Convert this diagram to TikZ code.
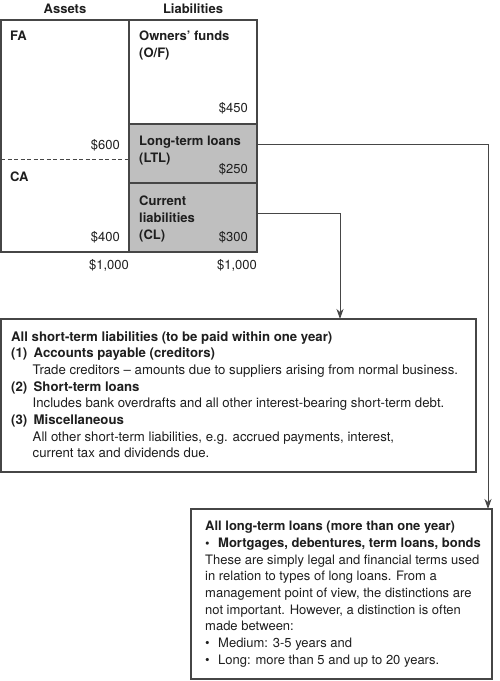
\documentclass[tikz,border=0pt]{standalone}
\usepackage{fontspec}
\setmainfont{TeX Gyre Heros}
\usetikzlibrary{arrows.meta}
\definecolor{rulegray}{RGB}{70,70,70}
\definecolor{shadegray}{RGB}{191,191,191}
\definecolor{inkgray}{RGB}{30,30,30}
\tikzset{
	part/.style={draw=rulegray, line width=1.2pt, inner sep=0pt, outer sep=0pt, anchor=north west},
	shaded/.style={part, fill=shadegray},
	lbl/.style={inner sep=0pt, text=inkgray, align=left, anchor=north west, font=\fontsize{13}{17}\selectfont\bfseries},
	amt/.style={inner sep=0pt, text=inkgray, anchor=base east, font=\fontsize{13}{17}\selectfont},
	note/.style={inner sep=0pt, text=inkgray, align=left, anchor=north west, font=\fontsize{13.2}{16.7}\selectfont},
	link/.style={draw=rulegray, line width=1pt, -{Stealth[length=10pt,width=7pt,inset=3pt]}}
}
\begin{document}
\begin{tikzpicture}[x=1pt, y=-1pt]
	\useasboundingbox (0,0) rectangle (500,681);
	
	%balance sheet
	\node[part, minimum width=128, minimum height=232] (fa) at (1,20) {};
	\node[part, minimum width=128, minimum height=104] (of) at (129,20) {};
	\node[shaded, minimum width=128, minimum height=59] (ltl) at (129,124) {};
	\node[shaded, minimum width=128, minimum height=69] (cl) at (129,183) {};
	\draw[rulegray, line width=1pt, dash pattern=on 4pt off 2.5pt] ([yshift=-23pt]fa.west) -- ([yshift=-23pt]fa.east);
	
	\node[lbl, anchor=base] (assets) at (65,13.7) {Assets};
	\node[lbl, anchor=base] (liab) at (193,13.7) {Liabilities};
	\node[lbl] (falbl) at (10,30.5) {FA};
	\node[lbl] (calbl) at (10,171.5) {CA};
	\node[lbl] (oflbl) at (139,30.5) {Owners’ funds\\(O/F)};
	\node[lbl] (ltllbl) at (139,135.5) {Long-term loans\\(LTL)};
	\node[lbl] (cllbl) at (139,195.5) {Current\\liabilities\\(CL)};
	
	\node[amt] (v450) at (248,112.7) {\$450};
	\node[amt] (v600) at (120,149.7) {\$600};
	\node[amt] (v250) at (248,173.7) {\$250};
	\node[amt] (v300) at (248,241.7) {\$300};
	\node[amt] (v400) at (120,241.7) {\$400};
	\node[amt] (totA) at (129,269.7) {\$1,000};
	\node[amt] (totL) at (257,269.7) {\$1,000};
	
	%explanation boxes
	\node[part, minimum width=475, minimum height=153] (stbox) at (1,319) {};
	\node[part, minimum width=301, minimum height=170] (ltbox) at (191,509) {};
	
	\node[note] (sttext) at ([xshift=10pt, yshift=-12pt]stbox.north west) {%
		\textbf{All short-term liabilities (to be paid within one year)}\\
		\textbf{\makebox[22.5pt][l]{(1)}Accounts payable (creditors)}\\
		\hspace*{21.5pt}Trade creditors – amounts due to suppliers arising from normal business.\\
		\textbf{\makebox[22.5pt][l]{(2)}Short-term loans}\\
		\hspace*{21.5pt}Includes bank overdrafts and all other interest-bearing short-term debt.\\
		\textbf{\makebox[22.5pt][l]{(3)}Miscellaneous}\\
		\hspace*{21.5pt}All other short-term liabilities, e.g. accrued payments, interest,\\
		\hspace*{21.5pt}current tax and dividends due.};
	
	\node[note, font=\fontsize{13}{16.7}\selectfont] (lttext) at ([xshift=14pt, yshift=-12pt]ltbox.north west) {%
		\textbf{All long-term loans (more than one year)}\\
		\textbf{\makebox[13pt][l]{\textbullet}Mortgages, debentures, term loans, bonds}\\
		These are simply legal and financial terms used\\
		in relation to types of long loans. From a\\
		management point of view, the distinctions are\\
		not important. However, a distinction is often\\
		made between:\\
		\makebox[13pt][l]{\textbullet}Medium: 3-5 years and\\
		\makebox[13pt][l]{\textbullet}Long: more than 5 and up to 20 years.};
	
	%connectors
	\draw[link] ([yshift=9.5pt]ltl.east) -| ([xshift=-4pt]ltbox.north east);
	\draw[link] ([yshift=4.5pt]cl.east) -| ([xshift=101.5pt]stbox.north);
\end{tikzpicture}
\end{document}
